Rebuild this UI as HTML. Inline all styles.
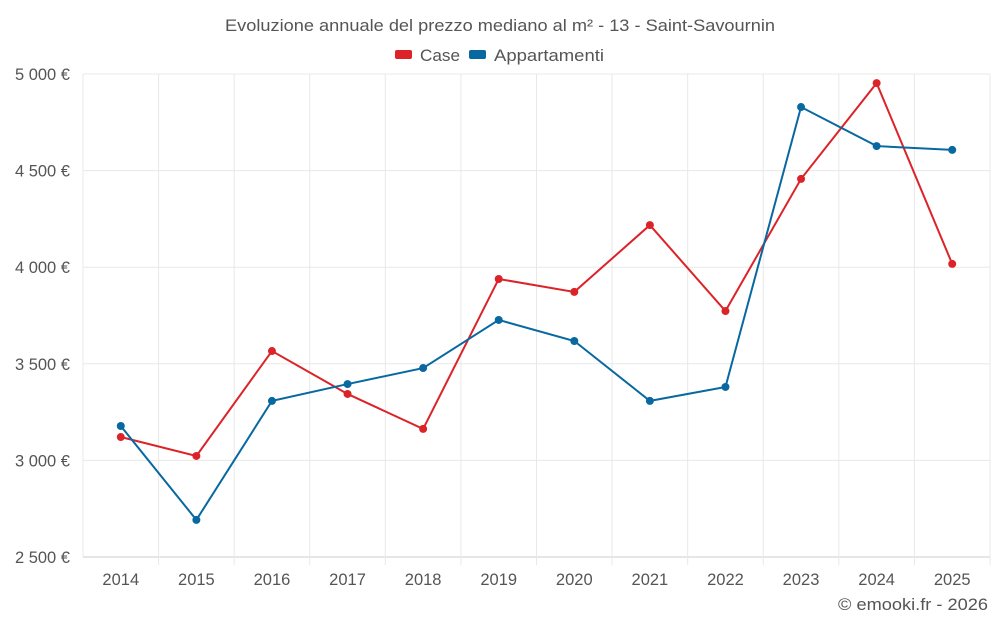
<!DOCTYPE html>
<html><head><meta charset="utf-8"><style>
body{margin:0;background:#fff;font-family:"Liberation Sans",sans-serif;}
svg text{font-family:"Liberation Sans",sans-serif;}
</style></head><body>
<svg id="chart" width="1000" height="625">
<text x="225" y="31" font-size="16.5" fill="#555" textLength="550" lengthAdjust="spacingAndGlyphs">Evoluzione annuale del prezzo mediano al m² - 13 - Saint-Savournin</text>
<g>
<g><rect x="395" y="50" width="17" height="9" rx="2" fill="#dc2328"/><text x="420" y="61" font-size="16.5" fill="#555" textLength="40" lengthAdjust="spacingAndGlyphs">Case</text></g>
<g><rect x="469" y="50" width="17" height="9" rx="2" fill="#0868a0"/><text x="494" y="61" font-size="16.5" fill="#555" textLength="110" lengthAdjust="spacingAndGlyphs">Appartamenti</text></g>
</g>
<g id="grid"></g><g id="axes"></g><g id="series"></g>
<text x="838" y="610" font-size="16.5" fill="#555" textLength="150" lengthAdjust="spacingAndGlyphs">© emooki.fr - 2026</text>
</svg>
<script>
const years=["2014","2015","2016","2017","2018","2019","2020","2021","2022","2023","2024","2025"];
const caseValues=[3121,3023,3566,3344,3163,3939,3872,4218,3773,4457,4953,4017];
const aptValues=[3178,2692,3308,3395,3478,3727,3618,3308,3380,4829,4627,4607];
const yTicks=[2500,3000,3500,4000,4500,5000];
const yTickLabels=["2 500 €","3 000 €","3 500 €","4 000 €","4 500 €","5 000 €"];
const L=83,R=990,T=74,B=557,ymin=2500,ymax=5000;
const band=(R-L)/years.length;
const xs=i=>L+band*(i+0.5);
const ys=v=>B-(v-ymin)/(ymax-ymin)*(B-T);
const NS="http://www.w3.org/2000/svg";
function mk(tag,attrs,parent){const e=document.createElementNS(NS,tag);for(const k in attrs)e.setAttribute(k,attrs[k]);parent.appendChild(e);return e;}
const grid=document.getElementById('grid'),axes=document.getElementById('axes'),ser=document.getElementById('series');
yTicks.forEach((t,i)=>{
 const l=mk('line',{x1:L,x2:R,y1:ys(t),y2:ys(t),stroke:i==0?'#ccc':'#e8e8e8'},grid);
 
 
 const tx=mk('text',{x:70,y:ys(t)+6,'text-anchor':'end','font-size':16.5,fill:'#555'},axes);
 tx.textContent=yTickLabels[i];
 
 
});
for(let i=0;i<=years.length;i++){
 const x=L+band*i;
 const l=mk('line',{x1:x,x2:x,y1:T,y2:B+(i>0?8:0),stroke:'#e8e8e8'},grid);
 
 
}
years.forEach((y,i)=>{
 const tx=mk('text',{x:xs(i),y:585,'text-anchor':'middle','font-size':16.5,fill:'#555'},axes);
 tx.textContent=y;
 
 
});
function series(vals,color,name){
 const p=mk('polyline',{points:vals.map((v,i)=>xs(i)+','+ys(v)).join(' '),fill:'none',stroke:color,'stroke-width':2},ser);
 
 
 vals.forEach((v,i)=>{
  const c=mk('circle',{cx:xs(i),cy:ys(v),r:4,fill:color},ser);
  
  
 });
}
series(caseValues,'#dc2328','case');
series(aptValues,'#0868a0','appartamenti');
</script>
</body></html>
